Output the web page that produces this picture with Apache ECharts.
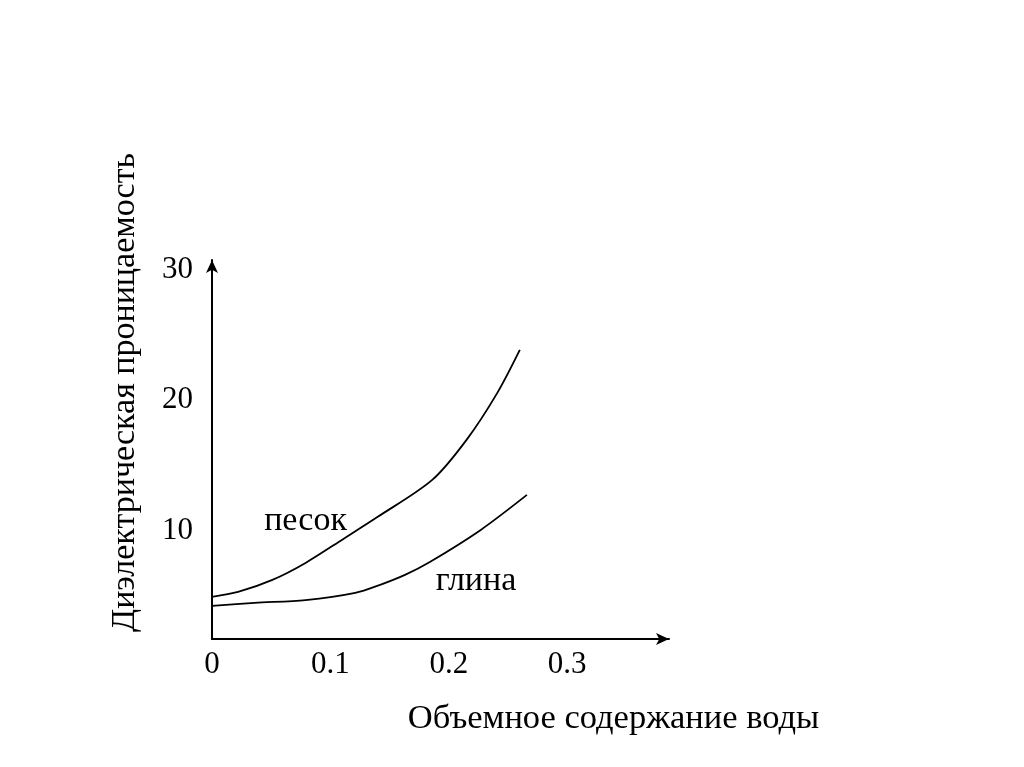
<!DOCTYPE html>
<html>
<head>
<meta charset="utf-8">
<script src="https://cdn.jsdelivr.net/npm/echarts@6/dist/echarts.min.js"></script>
<style>
html,body{margin:0;padding:0;background:#fff;}
#main{width:1024px;height:767px;}
</style>
</head>
<body>
<div id="main"></div>
<script>
// Data
const xTickValues = [0, 0.1, 0.2, 0.3];
const yTickValues = [10, 20, 30];
const sandX = [0, 0.022, 0.051, 0.079, 0.111, 0.140, 0.186, 0.215, 0.241, 0.260];
const sandY = [4.93, 5.31, 6.23, 7.53, 9.37, 11.06, 13.89, 16.96, 20.56, 23.85];
const clayX = [0, 0.036, 0.079, 0.121, 0.142, 0.163, 0.184, 0.227, 0.266];
const clayY = [4.24, 4.47, 4.68, 5.23, 5.85, 6.61, 7.6, 10.06, 12.74];
const sandName = 'песок';
const clayName = 'глина';
const sandLabelPos = [0.079, 10.75];
const clayLabelPos = [0.223, 6.15];
const xAxisName = 'Объемное содержание воды';
const yAxisName = 'Диэлектрическая проницаемость';

const font = '"Liberation Serif", "DejaVu Serif", serif';
const chart = echarts.init(document.getElementById('main'));

function pairs(xs, ys){ return xs.map((x,i)=>[x, ys[i]]); }
function labelPoint(name, pos){
  return {
    symbol: 'circle', symbolSize: 0,
    label: {show: true, position: 'inside', formatter: name, color: '#000',
            fontFamily: font, fontSize: 34},
    data: [{coord: pos}]
  };
}

chart.setOption({
  backgroundColor: '#fff',
  animation: false,
  grid: {left: 212, top: 260, width: 457, height: 379, containLabel: false},
  xAxis: {
    type: 'value', min: 0, max: 0.386,
    name: xAxisName, nameLocation: 'middle', nameGap: 62,
    nameTextStyle: {fontFamily: font, fontSize: 34.5, color: '#000', padding: [0, 0, 0, 346]},
    axisLine: {show: true, lineStyle: {color: '#000', width: 2}, symbol: ['none', 'arrow'], symbolSize: [9, 13]},
    axisTick: {show: false},
    splitLine: {show: false},
    axisLabel: {customValues: xTickValues, fontFamily: font, fontSize: 31, color: '#000', margin: 10,
      formatter: v => String(v)}
  },
  yAxis: {
    type: 'value', min: 1.7, max: 30.74,
    name: yAxisName, nameLocation: 'middle', nameRotate: 90, nameGap: 70,
    nameTextStyle: {fontFamily: font, fontSize: 34, color: '#000', padding: [0, 0, 0, 114]},
    axisLine: {show: true, lineStyle: {color: '#000', width: 2}, symbol: ['none', 'arrow'], symbolSize: [9, 13]},
    axisTick: {show: false},
    splitLine: {show: false},
    axisLabel: {customValues: yTickValues, fontFamily: font, fontSize: 31, color: '#000', margin: 19}
  },
  series: [
    {type: 'line', name: sandName, data: pairs(sandX, sandY), smooth: 0.3, showSymbol: false,
     lineStyle: {color: '#000', width: 1.8}, markPoint: labelPoint(sandName, sandLabelPos)},
    {type: 'line', name: clayName, data: pairs(clayX, clayY), smooth: 0.3, showSymbol: false,
     lineStyle: {color: '#000', width: 1.8}, markPoint: labelPoint(clayName, clayLabelPos)}
  ]
});
</script>
</body>
</html>
